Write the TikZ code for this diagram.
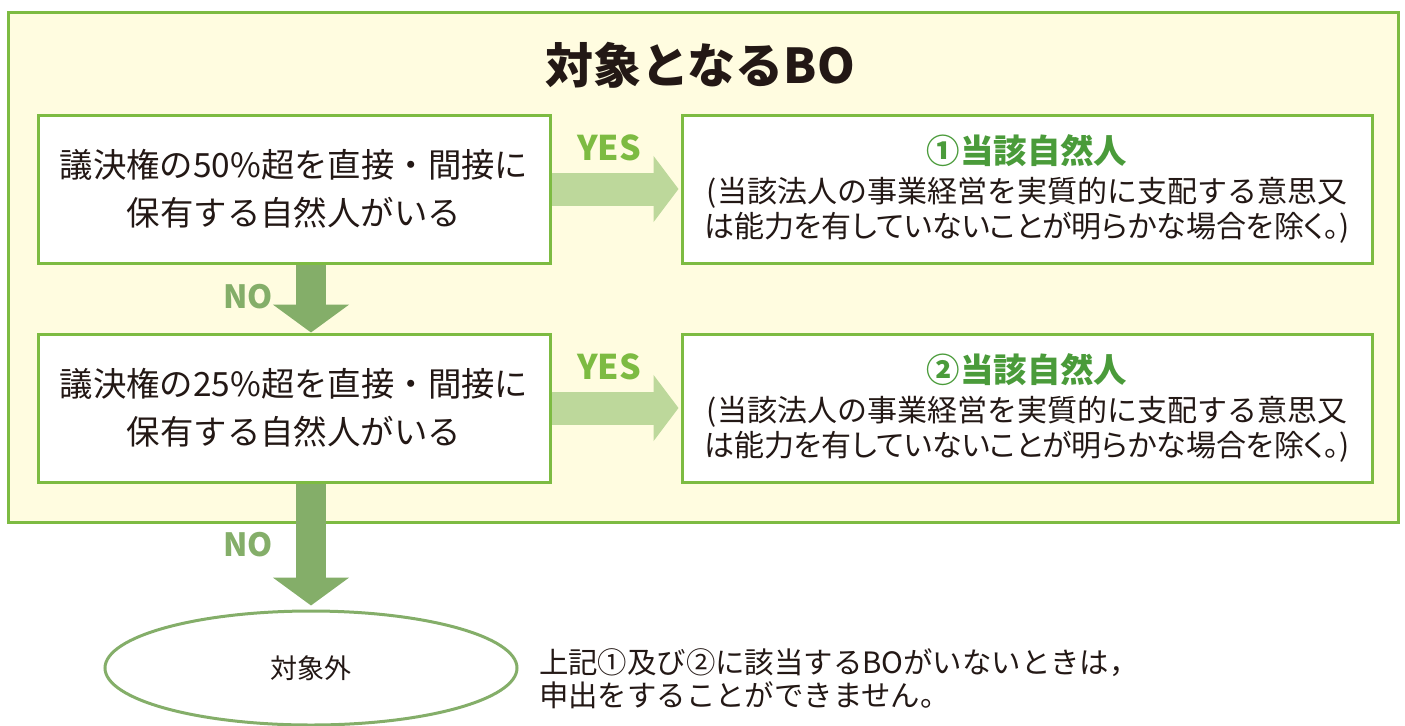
\documentclass[tikz,border=0pt]{standalone}
\usepackage{fontspec}
\setmainfont{Noto Sans CJK JP}
\usepackage{tikz}
\usetikzlibrary{positioning, arrows.meta, calc, shapes.geometric}
\definecolor{framegreen}{HTML}{7DBB42}
\definecolor{frameyellow}{HTML}{FFFCE0}
\definecolor{yesfill}{HTML}{BDD89B}
\definecolor{nofill}{HTML}{84AE69}
\definecolor{headgreen}{HTML}{4A9B3A}
\definecolor{ink}{HTML}{231815}
\newcommand{\proptext}[1]{{\addfontfeature{RawFeature=+palt}#1}}
\tikzset{
	qbox/.style={draw=framegreen, line width=1.5pt, fill=white, text=ink, minimum width=256pt, minimum height=74pt, align=center, font=\fontsize{16.7}{24}\selectfont},
	abox/.style={draw=framegreen, line width=1.5pt, fill=white, text=ink, minimum width=345pt, minimum height=74pt, align=center, font=\fontsize{15}{17.5}\selectfont},
	yesarrow/.style={draw=yesfill, line width=16.5pt, -{Triangle[length=12.5pt, width=32.5pt]}, shorten >=1pt},
	noarrow/.style={draw=nofill, line width=15pt, -{Triangle[length=14pt, width=37.5pt]}},
	yeslbl/.style={text=framegreen, font=\bfseries\fontsize{17}{20}\selectfont},
	nolbl/.style={text=nofill, font=\bfseries\fontsize{16}{19}\selectfont}
}

\begin{document}
\begin{tikzpicture}[x=0.5pt, y=-0.5pt]
		
		\useasboundingbox (0,0) rectangle (1405,725);
		
		% Outer frame
		\draw[draw=framegreen, fill=frameyellow, line width=1.5pt] (8,12) rectangle (1398,522);
		\node[text=ink, font=\bfseries\fontsize{24}{28}\selectfont] (title) at (700,65) {対象となるBO};
		
		% Questions
		\node[qbox] (q1) at (294,189) {議決権の50\%超を直接・間接に\\保有する自然人がいる};
		\node[qbox] (q2) at (294,408) {議決権の25\%超を直接・間接に\\保有する自然人がいる};
		
		% Answers
		\node[abox] (a1) at (1027,189) {\textcolor{headgreen}{\bfseries\fontsize{16.7}{20}\selectfont ①当該自然人}\\[2pt](当該法人の事業経営を実質的に支配する意思又\\\proptext{は能力を有していないことが明らかな場合を除く。)}};
		\node[abox] (a2) at (1027,408) {\textcolor{headgreen}{\bfseries\fontsize{16.7}{20}\selectfont ②当該自然人}\\[2pt](当該法人の事業経営を実質的に支配する意思又\\\proptext{は能力を有していないことが明らかな場合を除く。)}};
		
		% Out of scope
		\node[ellipse, draw=nofill, line width=1.5pt, fill=white, minimum width=206pt, minimum height=57pt, text=ink, font=\fontsize{13.5}{16}\selectfont] (out) at (311,668) {対象外};
		\node[anchor=west, align=left, text=ink, font=\fontsize{14.7}{16.5}\selectfont] (note) at (532,679) {上記①及び②に該当するBOがいないときは，\\申出をすることができません。};
		
		% YES arrows
		\draw[yesarrow] (q1.east) -- (a1.west);
		\draw[yesarrow] (q2.east) -- (a2.west);
		\node[yeslbl] (yes1) at (609,148) {YES};
		\node[yeslbl] (yes2) at (609,367) {YES};
		
		% NO arrows
		\coordinate (n1) at (out.north |- q1.south);
		\coordinate (n2) at (out.north |- q2.north);
		\coordinate (n3) at (out.north |- q2.south);
		\draw[noarrow] (n1) -- (n2);
		\draw[noarrow] (n3) -- ($(out.north)+(0,-4)$);
		\node[nolbl] (no1) at (248,297) {NO};
		\node[nolbl] (no2) at (248,545) {NO};

	\end{tikzpicture}
\end{document}
